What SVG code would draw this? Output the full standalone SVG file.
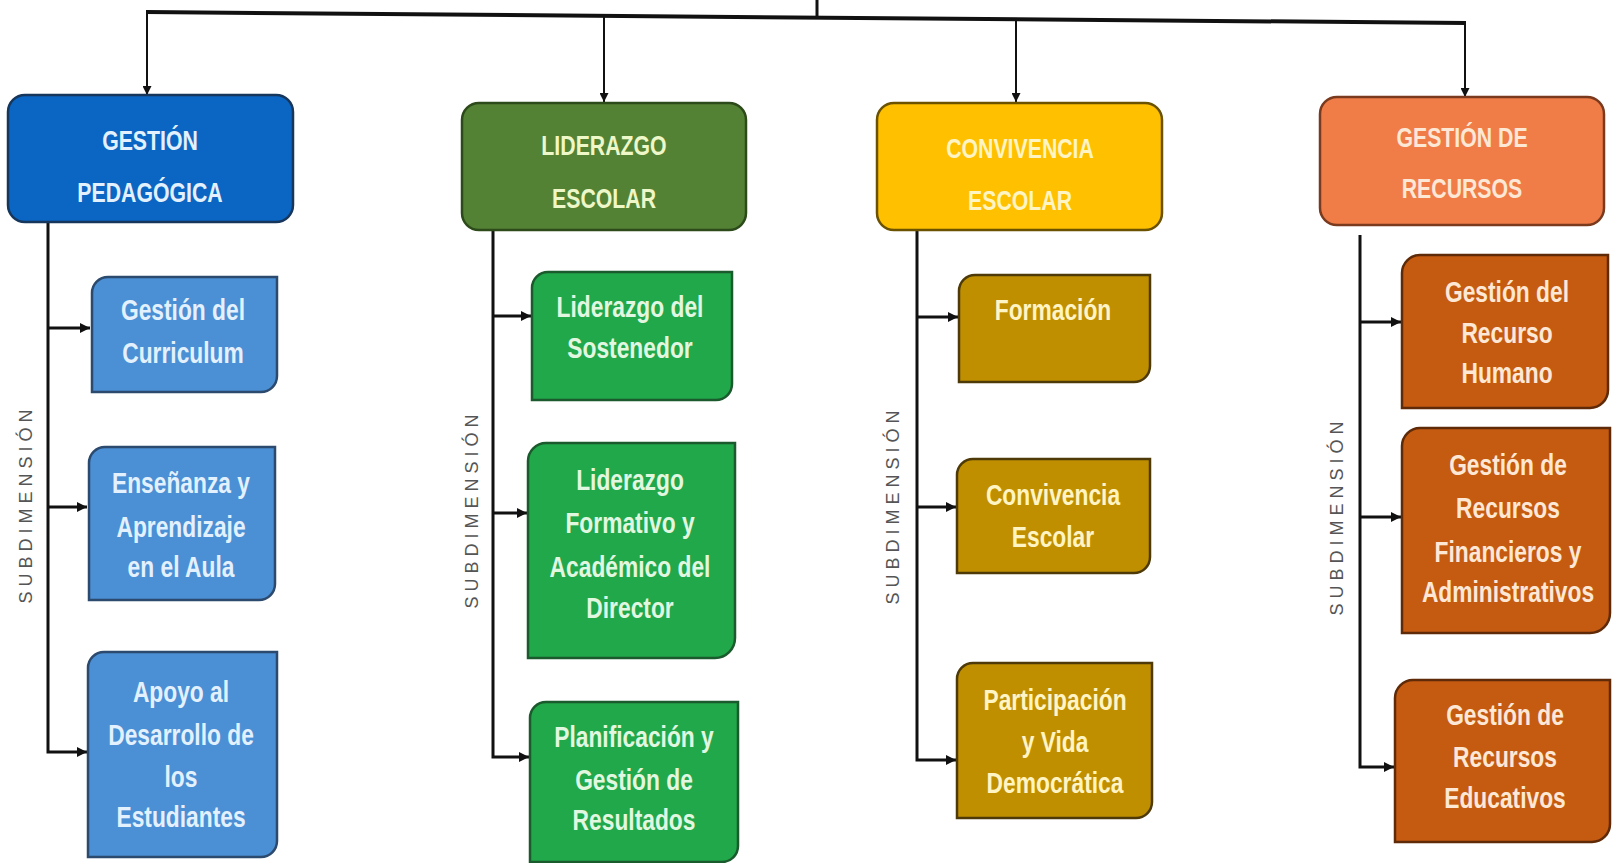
<svg xmlns="http://www.w3.org/2000/svg" width="1612" height="863" viewBox="0 0 1612 863">
<defs>
<marker id="ah" viewBox="0 0 10 10" refX="10" refY="5" markerWidth="9" markerHeight="9" markerUnits="userSpaceOnUse" orient="auto">
<path d="M0,0 L10,5 L0,10 Z" fill="#111"/>
</marker>
<marker id="ah2" viewBox="0 0 10 10" refX="10" refY="5" markerWidth="10" markerHeight="10" markerUnits="userSpaceOnUse" orient="auto">
<path d="M0,0 L10,5 L0,10 Z" fill="#111"/>
</marker>
</defs>
<style>
text{font-family:"Liberation Sans",Arial,sans-serif;text-anchor:middle}
.h{font-size:28px;font-weight:bold}
.s{font-size:30px;font-weight:bold}
.sub{font-family:"Liberation Sans","DejaVu Sans",sans-serif;font-size:18px;fill:#555;letter-spacing:5px}
.c{fill:none;stroke:#111;stroke-width:3}
.t{fill:none;stroke:#111;stroke-width:2}
.bm{stroke-width:2.5}
.bs{stroke-width:2.5}
.blue1{fill:#0b65c2;stroke:#16365c}
.blue2{fill:#4b8fd4;stroke:#2b4a6e}
.tb{fill:#e3f1ff}
.grn1{fill:#548235;stroke:#2c4a1a}
.grn2{fill:#20a84a;stroke:#1a5a2c}
.tg1{fill:#eef7c8}
.tg2{fill:#e2f7e0}
.yel1{fill:#ffc000;stroke:#6b5200}
.yel2{fill:#bf8f00;stroke:#4e3a08}
.ty{fill:#fff4c4}
.org1{fill:#f07c48;stroke:#7a3a1e}
.org2{fill:#c55a11;stroke:#5e2a08}
.to{fill:#fde8d6}
</style>
<rect width="1612" height="863" fill="#ffffff"/>

<g id="connectors">
<line class="c" x1="817" y1="0" x2="817" y2="16" stroke-width="2"/>
<line x1="146" y1="12" x2="1466" y2="23" stroke="#111" stroke-width="4"/>
<line class="t" x1="147" y1="13" x2="147" y2="95" marker-end="url(#ah)"/>
<line class="t" x1="604" y1="17" x2="604" y2="102" marker-end="url(#ah)"/>
<line class="t" x1="1016" y1="20" x2="1016" y2="102" marker-end="url(#ah)"/>
<line class="t" x1="1465" y1="23" x2="1465" y2="97" marker-end="url(#ah)"/>

<polyline class="c" points="48,222 48,752 87,752" marker-end="url(#ah2)"/>
<line class="c" x1="48" y1="328" x2="90" y2="328" marker-end="url(#ah2)"/>
<line class="c" x1="48" y1="507" x2="87" y2="507" marker-end="url(#ah2)"/>

<polyline class="c" points="493,230 493,757 529,757" marker-end="url(#ah2)"/>
<line class="c" x1="493" y1="316" x2="531" y2="316" marker-end="url(#ah2)"/>
<line class="c" x1="493" y1="513" x2="527" y2="513" marker-end="url(#ah2)"/>

<polyline class="c" points="917,230 917,760 956,760" marker-end="url(#ah2)"/>
<line class="c" x1="917" y1="317" x2="958" y2="317" marker-end="url(#ah2)"/>
<line class="c" x1="917" y1="507" x2="956" y2="507" marker-end="url(#ah2)"/>

<polyline class="c" points="1360,235 1360,767 1394,767" marker-end="url(#ah2)"/>
<line class="c" x1="1360" y1="322" x2="1401" y2="322" marker-end="url(#ah2)"/>
<line class="c" x1="1360" y1="517" x2="1401" y2="517" marker-end="url(#ah2)"/>

<text class="sub" transform="translate(32,504) rotate(-90)">SUBDIMENSIÓN</text>
<text class="sub" transform="translate(478,509) rotate(-90)">SUBDIMENSIÓN</text>
<text class="sub" transform="translate(899,505) rotate(-90)">SUBDIMENSIÓN</text>
<text class="sub" transform="translate(1343,516) rotate(-90)">SUBDIMENSIÓN</text>
</g>

<g id="gestion-pedagogica">
<rect class="blue1 bm" x="8" y="95" width="285" height="127" rx="17"/>
<g transform="translate(150,0) scale(0.76,1)">
<text class="h tb" x="0" y="150">GESTIÓN</text>
<text class="h tb" x="0" y="202">PEDAGÓGICA</text>
</g>
</g>
<g id="gestion-curriculum">
<path class="blue2 bs" d="M108,277 H277 V376 A16,16 0 0 1 261,392 H92 V293 A16,16 0 0 1 108,277 Z"/>
<g transform="translate(183,0) scale(0.76,1)">
<text class="s tb" x="0" y="320">Gestión del</text>
<text class="s tb" x="0" y="363">Curriculum</text>
</g>
</g>
<g id="ensenanza-aprendizaje">
<path class="blue2 bs" d="M105,447 H275 V584 A16,16 0 0 1 259,600 H89 V463 A16,16 0 0 1 105,447 Z"/>
<g transform="translate(181,0) scale(0.76,1)">
<text class="s tb" x="0" y="493">Enseñanza y</text>
<text class="s tb" x="0" y="537">Aprendizaje</text>
<text class="s tb" x="0" y="577">en el Aula</text>
</g>
</g>
<g id="apoyo-desarrollo">
<path class="blue2 bs" d="M104,652 H277 V841 A16,16 0 0 1 261,857 H88 V668 A16,16 0 0 1 104,652 Z"/>
<g transform="translate(181,0) scale(0.76,1)">
<text class="s tb" x="0" y="702">Apoyo al</text>
<text class="s tb" x="0" y="745">Desarrollo de</text>
<text class="s tb" x="0" y="787">los</text>
<text class="s tb" x="0" y="827">Estudiantes</text>
</g>
</g>

<g id="liderazgo-escolar">
<rect class="grn1 bm" x="462" y="103" width="284" height="127" rx="17"/>
<g transform="translate(604,0) scale(0.76,1)">
<text class="h tg1" x="0" y="155">LIDERAZGO</text>
<text class="h tg1" x="0" y="208">ESCOLAR</text>
</g>
</g>
<g id="liderazgo-sostenedor">
<path class="grn2 bs" d="M548,272 H732 V384 A16,16 0 0 1 716,400 H532 V288 A16,16 0 0 1 548,272 Z"/>
<g transform="translate(630,0) scale(0.76,1)">
<text class="s tg2" x="0" y="317">Liderazgo del</text>
<text class="s tg2" x="0" y="358">Sostenedor</text>
</g>
</g>
<g id="liderazgo-formativo">
<path class="grn2 bs" d="M546,443 H735 V638 A20,20 0 0 1 715,658 H528 V461 A18,18 0 0 1 546,443 Z"/>
<g transform="translate(630,0) scale(0.76,1)">
<text class="s tg2" x="0" y="490">Liderazgo</text>
<text class="s tg2" x="0" y="533">Formativo y</text>
<text class="s tg2" x="0" y="577">Académico del</text>
<text class="s tg2" x="0" y="618">Director</text>
</g>
</g>
<g id="planificacion-gestion">
<path class="grn2 bs" d="M546,702 H738 V846 A16,16 0 0 1 722,862 H530 V718 A16,16 0 0 1 546,702 Z"/>
<g transform="translate(634,0) scale(0.76,1)">
<text class="s tg2" x="0" y="747">Planificación y</text>
<text class="s tg2" x="0" y="790">Gestión de</text>
<text class="s tg2" x="0" y="830">Resultados</text>
</g>
</g>

<g id="convivencia-escolar">
<rect class="yel1 bm" x="877" y="103" width="285" height="127" rx="17"/>
<g transform="translate(1020,0) scale(0.76,1)">
<text class="h ty" x="0" y="158">CONVIVENCIA</text>
<text class="h ty" x="0" y="210">ESCOLAR</text>
</g>
</g>
<g id="formacion">
<path class="yel2 bs" d="M975,275 H1150 V366 A16,16 0 0 1 1134,382 H959 V291 A16,16 0 0 1 975,275 Z"/>
<g transform="translate(1053,0) scale(0.76,1)">
<text class="s ty" x="0" y="320">Formación</text>
</g>
</g>
<g id="convivencia-sub">
<path class="yel2 bs" d="M973,459 H1150 V557 A16,16 0 0 1 1134,573 H957 V475 A16,16 0 0 1 973,459 Z"/>
<g transform="translate(1053,0) scale(0.76,1)">
<text class="s ty" x="0" y="505">Convivencia</text>
<text class="s ty" x="0" y="547">Escolar</text>
</g>
</g>
<g id="participacion">
<path class="yel2 bs" d="M973,663 H1152 V802 A16,16 0 0 1 1136,818 H957 V679 A16,16 0 0 1 973,663 Z"/>
<g transform="translate(1055,0) scale(0.76,1)">
<text class="s ty" x="0" y="710">Participación</text>
<text class="s ty" x="0" y="752">y Vida</text>
<text class="s ty" x="0" y="793">Democrática</text>
</g>
</g>

<g id="gestion-recursos">
<rect class="org1 bm" x="1320" y="97" width="284" height="128" rx="17"/>
<g transform="translate(1462,0) scale(0.76,1)">
<text class="h to" x="0" y="147">GESTIÓN DE</text>
<text class="h to" x="0" y="198">RECURSOS</text>
</g>
</g>
<g id="recurso-humano">
<path class="org2 bs" d="M1420,255 H1608 V390 A18,18 0 0 1 1590,408 H1402 V273 A18,18 0 0 1 1420,255 Z"/>
<g transform="translate(1507,0) scale(0.76,1)">
<text class="s to" x="0" y="302">Gestión del</text>
<text class="s to" x="0" y="343">Recurso</text>
<text class="s to" x="0" y="383">Humano</text>
</g>
</g>
<g id="recursos-financieros">
<path class="org2 bs" d="M1420,428 H1610 V613 A20,20 0 0 1 1590,633 H1402 V446 A18,18 0 0 1 1420,428 Z"/>
<g transform="translate(1508,0) scale(0.76,1)">
<text class="s to" x="0" y="475">Gestión de</text>
<text class="s to" x="0" y="518">Recursos</text>
<text class="s to" x="0" y="562">Financieros y</text>
<text class="s to" x="0" y="602">Administrativos</text>
</g>
</g>
<g id="recursos-educativos">
<path class="org2 bs" d="M1413,680 H1610 V824 A18,18 0 0 1 1592,842 H1395 V698 A18,18 0 0 1 1413,680 Z"/>
<g transform="translate(1505,0) scale(0.76,1)">
<text class="s to" x="0" y="725">Gestión de</text>
<text class="s to" x="0" y="767">Recursos</text>
<text class="s to" x="0" y="808">Educativos</text>
</g>
</g>
</svg>
